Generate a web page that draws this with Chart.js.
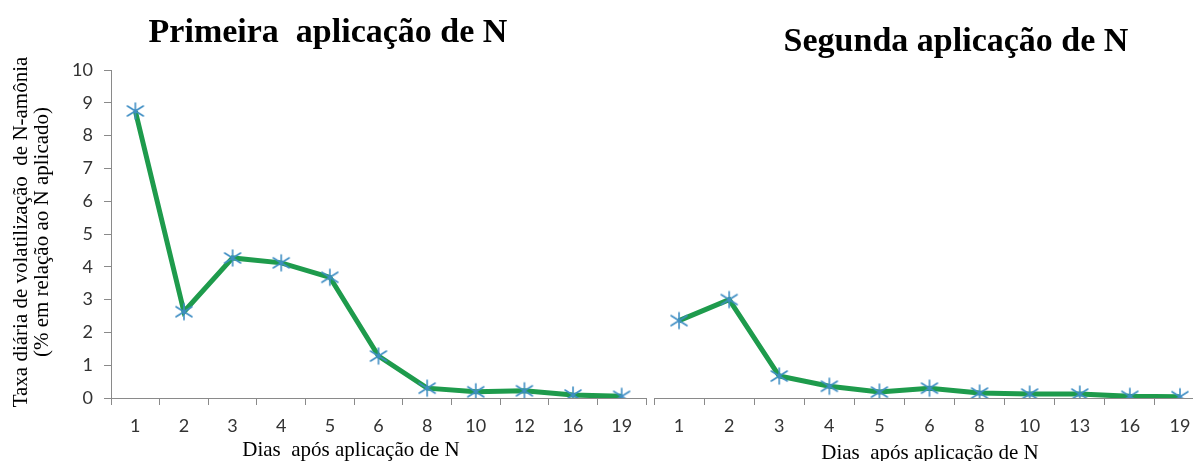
<!DOCTYPE html>
<html>
<head>
<meta charset="utf-8">
<script src="https://cdn.jsdelivr.net/npm/chart.js@4.4.1/dist/chart.umd.min.js"></script>
<style>
  html, body { margin:0; padding:0; background:#fff; width:1193px; height:461px; overflow:hidden; }
  .panel { position:absolute; top:0; height:461px; }
  #wrapL { left:0; width:660px; }
  #wrapR { left:640px; width:580px; }
</style>
</head>
<body>
<div id="wrapL" class="panel"><canvas id="chartL"></canvas></div>
<div id="wrapR" class="panel"><canvas id="chartR"></canvas></div>
<script>
// ---- data ----
const daysFirst  = ['1','2','3','4','5','6','8','10','12','16','19'];
const rateFirst  = [8.75, 2.63, 4.27, 4.12, 3.68, 1.28, 0.30, 0.19, 0.22, 0.09, 0.05];
const daysSecond = ['1','2','3','4','5','6','8','10','13','16','19'];
const rateSecond = [2.36, 3.00, 0.67, 0.36, 0.18, 0.30, 0.15, 0.12, 0.12, 0.05, 0.04];
const yTicks = [0,1,2,3,4,5,6,7,8,9,10];

const titleFirst = 'Primeira  aplicação de N';
const titleSecond = 'Segunda aplicação de N';
const xTitle = 'Dias  após aplicação de N';
const yTitle = ['Taxa diária de volatilização  de N-amônia', '(% em relação ao N aplicado)'];

// ---- styles ----
const lineColor = '#1e9b4c';
const markerColor = '#3f8ec4';
const axisColor = '#8a8a8a';
const tickFont = { family: 'Lato, "Open Sans", sans-serif', size: 18 };
const serif = '"Liberation Serif", "Times New Roman", serif';

function makeMarker() {
  const c = document.createElement('canvas');
  c.width = 20; c.height = 20;
  const g = c.getContext('2d');
  g.strokeStyle = markerColor;
  g.lineWidth = 1.6;
  g.lineCap = 'round';
  g.beginPath();
  g.moveTo(10, 2); g.lineTo(10, 18);
  g.moveTo(2, 5); g.lineTo(18, 15);
  g.moveTo(2, 15); g.lineTo(18, 5);
  g.stroke();
  return c;
}
const marker = makeMarker();

function textPlugin(cfg) {
  return {
    id: 'texts',
    afterDraw(chart) {
      const ctx = chart.ctx;
      ctx.save();
      ctx.fillStyle = '#000';
      ctx.textAlign = 'center';
      ctx.textBaseline = 'alphabetic';
      ctx.font = 'bold 34px ' + serif;
      ctx.fillText(cfg.title, cfg.titleX, cfg.titleY);
      ctx.font = '21px ' + serif;
      ctx.textBaseline = 'middle';
      ctx.fillText(cfg.xTitle, cfg.xTitleX, cfg.xTitleY);
      if (cfg.yTitle) {
        ctx.translate(cfg.yTitleX, cfg.yTitleY);
        ctx.rotate(-Math.PI / 2);
        ctx.font = '21px ' + serif;
        cfg.yTitle.forEach((t, i) => ctx.fillText(t, 0, i * cfg.yTitleGap));
      }
      ctx.restore();
    }
  };
}

function makeChart(id, labels, values, showY, pad, plugin) {
  return new Chart(document.getElementById(id), {
    type: 'line',
    data: {
      labels: labels,
      datasets: [{
        data: values,
        borderColor: lineColor,
        borderWidth: 5,
        tension: 0,
        pointStyle: marker,
        pointRadius: 9,
        pointHoverRadius: 9
      }]
    },
    options: {
      responsive: true,
      maintainAspectRatio: false,
      animation: false,
      events: [],
      layout: { padding: pad },
      plugins: { legend: { display: false }, tooltip: { enabled: false }, title: { display: false } },
      scales: {
        x: {
          offset: true,
          grid: { display: true, offset: true, drawOnChartArea: false, drawTicks: true, tickLength: 7, color: axisColor },
          border: { display: true, color: axisColor, width: 1 },
          ticks: { color: '#333', font: tickFont, padding: 10, maxRotation: 0, autoSkip: false },
          afterFit: s => { s.height = 63; }
        },
        y: {
          display: showY,
          min: 0, max: 10,
          afterBuildTicks: s => { s.ticks = yTicks.map(v => ({ value: v })); },
          grid: { display: true, drawOnChartArea: false, drawTicks: true, tickLength: 7, color: axisColor },
          border: { display: true, color: axisColor, width: 1 },
          ticks: { color: '#333', font: tickFont, padding: 11 },
          afterFit: s => { s.width = showY ? 111 : 0; }
        }
      }
    },
    plugins: [plugin]
  });
}

makeChart('chartL', daysFirst, rateFirst, true, { top: 70, left: 0, right: 7, bottom: 0 },
  textPlugin({ title: titleFirst, titleX: 328, titleY: 42, xTitle: xTitle, xTitleX: 351, xTitleY: 450,
               yTitle: yTitle, yTitleX: 21, yTitleY: 232, yTitleGap: 21 }));

makeChart('chartR', daysSecond, rateSecond, false, { top: 70, left: 14, right: 15, bottom: 0 },
  textPlugin({ title: titleSecond, titleX: 316, titleY: 51, xTitle: xTitle, xTitleX: 290, xTitleY: 453 }));
</script>
</body>
</html>
